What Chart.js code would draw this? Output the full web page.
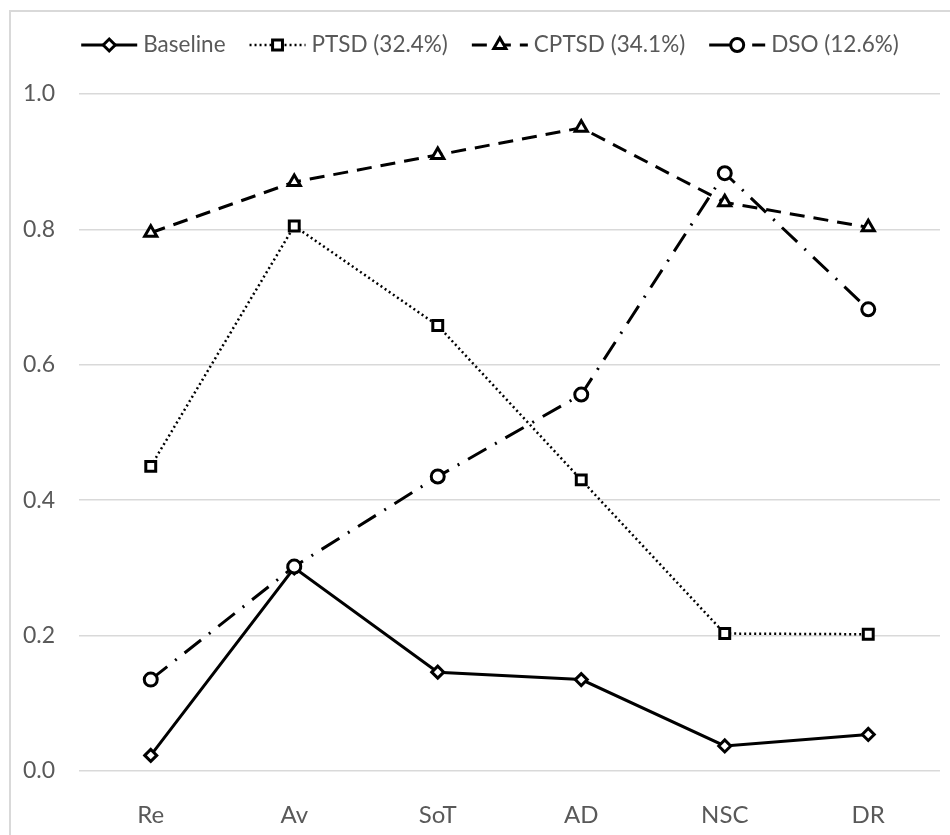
<!DOCTYPE html>
<html>
<head>
<meta charset="utf-8">
<script src="https://cdn.jsdelivr.net/npm/chart.js@4.4.0/dist/chart.umd.min.js"></script>
<style>
  html, body { margin: 0; padding: 0; background: #fff; overflow: hidden; }
  #wrap { position: relative; width: 950px; height: 835px; }
</style>
</head>
<body>
<div id="wrap"><canvas id="chart" width="950" height="835"></canvas></div>
<script>
// categories and series
const categories = ['Re', 'Av', 'SoT', 'AD', 'NSC', 'DR'];
const seriesLabels = ['Baseline', 'PTSD (32.4%)', 'CPTSD (34.1%)', 'DSO (12.6%)'];
const baseline = [0.023, 0.300, 0.146, 0.135, 0.037, 0.054];
const ptsd = [0.450, 0.805, 0.658, 0.430, 0.203, 0.202];
const cptsd = [0.795, 0.870, 0.910, 0.950, 0.840, 0.803];
const dso = [0.135, 0.302, 0.435, 0.556, 0.883, 0.682];
const yTicks = [0, 0.2, 0.4, 0.6, 0.8, 1.0];

const FONT = "Lato, 'Open Sans', sans-serif";
const TEXT = '#595959';
const GRID = '#d9d9d9';

function series(label, data, style, order) {
  return Object.assign({
    label: label,
    data: data,
    borderColor: '#000',
    backgroundColor: '#fff',
    pointBackgroundColor: '#fff',
    pointBorderColor: '#000',
    pointBorderWidth: 3,
    borderWidth: 3,
    tension: 0,
    fill: false,
    order: order
  }, style);
}

// Frame drawn like the light border around the original chart
const framePlugin = {
  id: 'frame',
  beforeDraw(chart) {
    const ctx = chart.ctx;
    ctx.save();
    ctx.strokeStyle = GRID;
    ctx.lineWidth = 2;
    ctx.beginPath();
    ctx.moveTo(10, chart.height + 5);
    ctx.lineTo(10, 11);
    ctx.lineTo(chart.width + 5, 11);
    ctx.stroke();
    ctx.restore();
  }
};

// Legend with line sample + marker, like the office-style legend
const legendPlugin = {
  id: 'lineLegend',
  afterDraw(chart) {
    const ctx = chart.ctx;
    const sample = 56, gap = 6, spacing = 24, cy = 45;
    ctx.save();
    ctx.font = '22.5px ' + FONT;
    ctx.textBaseline = 'middle';
    const sets = chart.data.datasets;
    const widths = sets.map(ds => sample + gap + ctx.measureText(ds.label).width);
    const total = widths.reduce((a, b) => a + b, 0) + spacing * (sets.length - 1);
    let x = 490 - total / 2;
    sets.forEach((ds, i) => {
      ctx.strokeStyle = '#000';
      ctx.lineWidth = ds.borderWidth;
      ctx.lineCap = 'butt';
      ctx.setLineDash(ds.borderDash || []);
      ctx.beginPath();
      ctx.moveTo(x, cy);
      ctx.lineTo(x + sample, cy);
      ctx.stroke();
      ctx.setLineDash([]);
      ctx.fillStyle = '#fff';
      ctx.strokeStyle = '#000';
      ctx.lineWidth = ds.pointBorderWidth;
      Chart.helpers.drawPoint(ctx, {
        pointStyle: ds.pointStyle,
        radius: ds.pointRadius,
        borderWidth: ds.pointBorderWidth,
        rotation: 0
      }, x + sample / 2, cy);
      ctx.fillStyle = TEXT;
      ctx.textAlign = 'left';
      ctx.fillText(ds.label, x + sample + gap, cy);
      x += widths[i] + spacing;
    });
    ctx.restore();
  }
};

new Chart(document.getElementById('chart'), {
  type: 'line',
  data: {
    labels: categories,
    datasets: [
      series(seriesLabels[0], baseline, {
        pointStyle: 'rectRot', pointRadius: 6, borderWidth: 3
      }, 3),
      series(seriesLabels[1], ptsd, {
        pointStyle: 'rect', pointRadius: 7, borderWidth: 2.5,
        borderDash: [2, 3]
      }, 2),
      series(seriesLabels[2], cptsd, {
        pointStyle: 'triangle', pointRadius: 7, borderWidth: 3,
        borderDash: [15, 9]
      }, 1),
      series(seriesLabels[3], dso, {
        pointStyle: 'circle', pointRadius: 6.5, borderWidth: 3,
        borderDash: [21, 10, 2, 10]
      }, 0)
    ]
  },
  options: {
    responsive: false,
    animation: false,
    events: [],
    layout: { padding: { top: 94, right: 7, bottom: 0, left: 0 } },
    plugins: {
      legend: { display: false },
      tooltip: { enabled: false }
    },
    scales: {
      x: {
        offset: true,
        grid: { display: false },
        border: { display: false },
        ticks: { color: TEXT, font: { family: FONT, size: 24 }, padding: 22 },
        afterFit: (scale) => { scale.height = 64; }
      },
      y: {
        min: 0,
        max: 1,
        afterBuildTicks: (scale) => { scale.ticks = yTicks.map(v => ({ value: v })); },
        grid: { color: GRID, lineWidth: 1.5, drawTicks: false },
        border: { display: false },
        ticks: {
          color: TEXT,
          font: { family: FONT, size: 23 },
          padding: 24,
          callback: (v) => Number(v).toFixed(1)
        },
        afterFit: (scale) => { scale.width = 79; }
      }
    }
  },
  plugins: [framePlugin, legendPlugin]
});
</script>
</body>
</html>
